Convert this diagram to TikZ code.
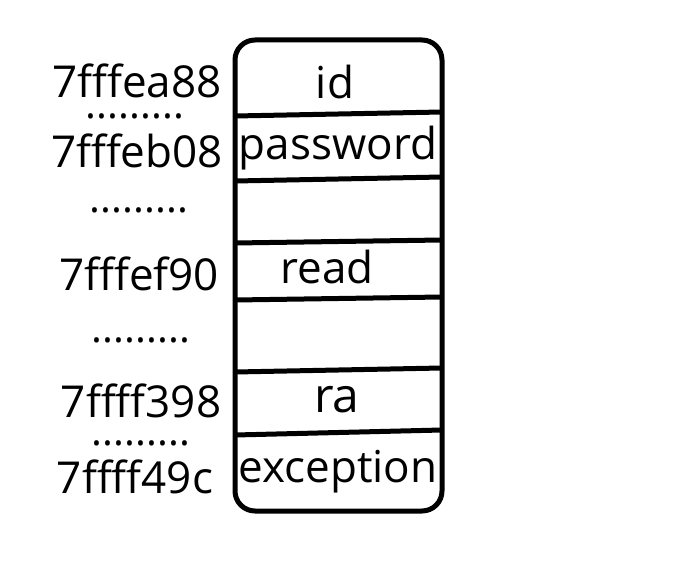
\documentclass[tikz,border=0pt]{standalone}
\usepackage{fontspec}
\setmainfont{Open Sans}
\begin{document}
\begin{tikzpicture}[x=1pt,y=-1pt,
  lbl/.style={font=\fontsize{44}{50}\selectfont, inner sep=0pt, anchor=base},
  addr/.style={lbl, text height=32pt, text depth=0pt},
  dots/.style={font=\fontsize{41}{46}\selectfont, inner sep=0pt, anchor=base, text height=6pt, text depth=0pt},
  frame/.style={line width=5pt, rounded corners=20pt},
  divider/.style={line width=5pt}]
\useasboundingbox (0,0) rectangle (696,564);
% memory frame
\draw[frame] (235,40) rectangle (442,511);
\coordinate (l1) at (235,116); \coordinate (r1) at (442,112);
\coordinate (l2) at (235,181); \coordinate (r2) at (442,177);
\coordinate (l3) at (235,243); \coordinate (r3) at (442,240);
\coordinate (l4) at (235,300); \coordinate (r4) at (442,297);
\coordinate (l5) at (235,372); \coordinate (r5) at (442,368);
\coordinate (l6) at (235,435); \coordinate (r6) at (442,430);
\foreach \i in {1,...,6} \draw[divider] (l\i) -- (r\i);
% contents
\node[lbl] (id) at (335,99) {id};
\node[lbl] (pw) at (338,160) {password};
\node[lbl] (rd) at (327,283) {read};
\node[lbl,font=\fontsize{48}{54}\selectfont] (ra) at (337,412) {ra};
\node[lbl] (ex) at (338,482) {exception};
% addresses
\node[addr] (a1) at (137,98) {7fffea88};
\node[addr] (a2) at (137,168) {7fffeb08};
\node[addr] (a3) at (139,290) {7fffef90};
\node[addr] (a4) at (141,417) {7ffff398};
\node[addr] (a5) at (135,493) {7ffff49c};
% ellipses
\node[dots] (d1) at (135,119) {.........};
\node[dots] (d2) at (139,213) {.........};
\node[dots] (d3) at (141,342) {.........};
\node[dots] (d4) at (141,445) {.........};
\end{tikzpicture}
\end{document}
